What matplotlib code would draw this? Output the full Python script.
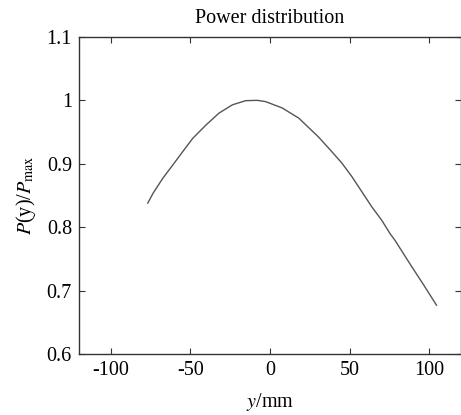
import matplotlib
matplotlib.use("Agg")
import matplotlib.pyplot as plt
from matplotlib.ticker import FuncFormatter

# curve
y_mm = [-76.7, -73.5, -67.3, -61.0, -54.8, -48.5, -40.2, -31.9, -23.5, -15.2,
        -7.9, -2.7, 7.7, 18.1, 30.6, 38.9, 45.2, 51.4, 57.7, 64.0, 70.2, 75.4,
        78.6, 89.0, 96.8, 104.6]
p_rel = [0.838, 0.853, 0.877, 0.898, 0.919, 0.940, 0.961, 0.980, 0.993, 0.9995,
         1.000, 0.998, 0.988, 0.972, 0.942, 0.919, 0.901, 0.880, 0.856, 0.832,
         0.811, 0.790, 0.779, 0.738, 0.708, 0.677]

x_ticks = [-100, -50, 0, 50, 100]
y_ticks = [0.6, 0.7, 0.8, 0.9, 1.0, 1.1]

plt.rcParams["font.family"] = ["Liberation Serif", "DejaVu Serif"]
plt.rcParams["mathtext.fontset"] = "stix"
plt.rcParams["axes.unicode_minus"] = False

fig = plt.figure(figsize=(4.61, 4.15), dpi=100)
ax = fig.add_axes([0.171, 0.147, 0.829, 0.764])

ax.plot(y_mm, p_rel, color="#555555", lw=1.0)

ax.set_xlim(-120, 120)
ax.set_ylim(0.6, 1.1)
ax.set_xticks(x_ticks)
ax.set_yticks(y_ticks)
ax.yaxis.set_major_formatter(FuncFormatter(lambda v, _: "%g" % round(v, 2)))
ax.tick_params(direction="in", top=True, right=True, labelsize=14.5,
               length=4, width=0.8, colors="#333333", labelcolor="black", pad=5)
for s in ax.spines.values():
    s.set_color("#333333")
    s.set_linewidth(1.0)

ax.set_title("Power distribution", fontsize=14.5, pad=10)
ax.set_xlabel("$y$/mm", fontsize=14.5, labelpad=8)
ax.set_ylabel("$P$(y)/$P_{\\rm max}$", fontsize=14.5, labelpad=6)

fig.savefig("out.png", dpi=100)
